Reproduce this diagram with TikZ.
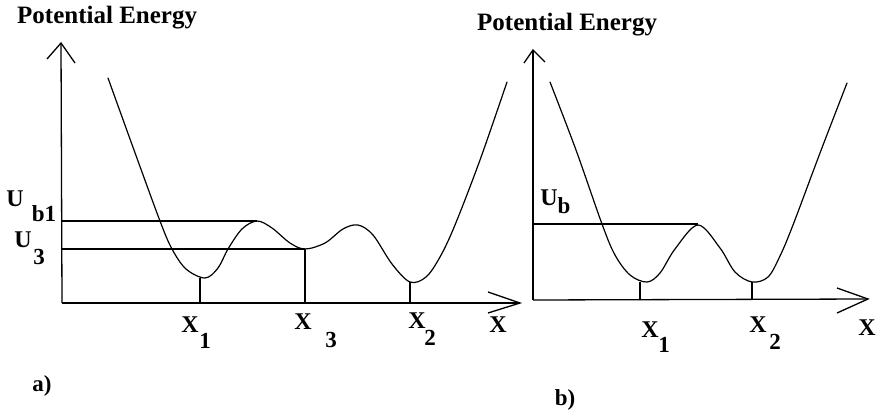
\documentclass[tikz,border=0pt]{standalone}
\usepackage{fontspec}
\setmainfont{Liberation Serif}
\begin{document}
\begin{tikzpicture}[x=1pt,y=-1pt,
  curve/.style={line width=1.2pt, line join=round, line cap=round},
  axis/.style={line width=1.3pt},
  guide/.style={line width=1.1pt},
  lbl/.style={inner sep=0pt, font=\bfseries\fontsize{24}{26}\selectfont},
  sub/.style={inner sep=0pt, font=\bfseries\fontsize{23}{25}\selectfont},
  title/.style={inner sep=0pt, anchor=base west, font=\bfseries\fontsize{25}{27}\selectfont},
  tag/.style={inner sep=0pt, font=\bfseries\fontsize{23}{25}\selectfont}]
\useasboundingbox (0,0) rectangle (878,418);
% ---------- panel a ----------
\coordinate (aO) at (62,303);
\coordinate (aY) at (61,43);
\coordinate (aX) at (520,303);
\draw[axis] (aO) -- (aY);
\draw[axis] (47,59) -- (aY) -- (75,63);
\draw[axis] (aO) -- (aX);
\draw[axis] (488,292) -- (aX) -- (488,313);
\node[title] (aT) at (17,23) {Potential Energy};
\draw[curve] plot[smooth, tension=0.55] coordinates {
 (108,78) (134,150) (160,221) (172,249) (186,269) (205,278) (218,268) (228,249)
 (242,229) (257,221) (272,228) (290,243) (305,249) (325,243) (343,229) (358,225)
 (373,235) (392,264) (410,282) (426,277) (440,257) (455,225) (480,160) (507,82)};
\coordinate (aUb) at (62,221); \coordinate (aPk) at (257,221);
\coordinate (aU3) at (62,249); \coordinate (aM3) at (305,249);
\draw[guide] (aUb) -- (aPk);
\draw[guide] (aU3) -- (aM3);
\draw[guide] (200,278) -- (200,303);
\draw[guide] (aM3) -- (305,303);
\draw[guide] (410,282) -- (410,303);
\node[lbl] (aX1) at (190,325) {X};
\node[sub] (aX1s) at (205,341) {1};
\node[lbl] (aX3) at (303,322) {X};
\node[sub] (aX3s) at (331,340) {3};
\node[lbl] (aX2) at (417,321) {X};
\node[sub] (aX2s) at (430,338) {2};
\node[lbl] (aXl) at (498,325) {X};
\node[lbl] (aUb1) at (15,199) {U};
\node[sub] (aUb1s) at (44,214) {b1};
\node[lbl] (aU3l) at (23,240) {U};
\node[sub] (aU3s) at (39,257) {3};
\node[tag] (aTag) at (42,386) {a)};
% ---------- panel b ----------
\coordinate (bO) at (533,300);
\coordinate (bY) at (533,50);
\coordinate (bX) at (868,299);
\draw[axis] (bO) -- (bY);
\draw[axis] (524,63) -- (bY) -- (545,62);
\draw[axis] (bO) -- (bX);
\draw[axis] (837,288) -- (bX) -- (837,313);
\node[title] (bT) at (477,30) {Potential Energy};
\draw[curve] plot[smooth, tension=0.55] coordinates {
 (550,82) (576,150) (602,224) (615,255) (630,275) (647,282) (660,273) (675,249)
 (698,225) (720,248) (735,272) (752,282) (768,277) (780,256) (793,225) (820,153) (847,83)};
\coordinate (bUb) at (533,224); \coordinate (bPk) at (698,224);
\draw[guide] (bUb) -- (bPk);
\draw[guide] (640,282) -- (640,300);
\draw[guide] (752,282) -- (752,300);
\node[lbl] (bX1) at (650,330) {X};
\node[sub] (bX1s) at (664,345) {1};
\node[lbl] (bX2) at (758,325) {X};
\node[sub] (bX2s) at (775,342) {2};
\node[lbl] (bXl) at (867,328) {X};
\node[lbl] (bUbl) at (549,198) {U};
\node[sub] (bUbs) at (564,206) {b};
\node[tag] (bTag) at (565,400) {b)};
\end{tikzpicture}
\end{document}
